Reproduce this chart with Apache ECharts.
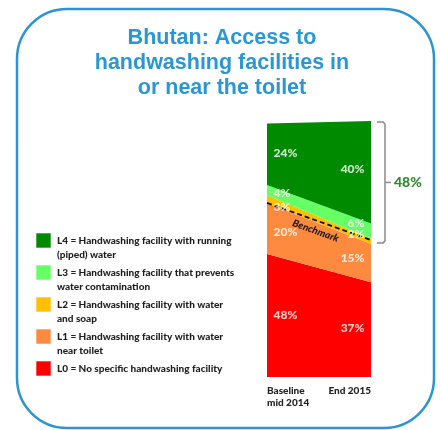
<!DOCTYPE html>
<html>
<head>
<meta charset="utf-8">
<script src="https://cdn.jsdelivr.net/npm/echarts@6/dist/echarts.min.js"></script>
<style>
  html, body { margin: 0; padding: 0; background: #fff; }
  #chart { width: 440px; height: 430px; }
</style>
</head>
<body>
<div id="chart"></div>
<script>
// Survey rounds
const categories = ['Baseline\nmid 2014', 'End 2015'];

// Share of households per handwashing level (%)
const levelL0 = [48, 37];
const levelL1 = [20, 15];
const levelL2 = [3, 2];
const levelL3 = [4, 6];
const levelL4 = [24, 40];

// Benchmark line (%), one value per survey round
const benchmark = [68, 53.5];

const levelNames = ['L0', 'L1', 'L2', 'L3', 'L4'];
const levelText = [
  'L0 = No specific handwashing facility',
  'L1 = Handwashing facility with water\nnear toilet',
  'L2 = Handwashing facility with water\nand soap',
  'L3 = Handwashing facility that prevents\nwater contamination',
  'L4 = Handwashing facility with running\n(piped) water'
];
const levelColors = ['#ff0000', '#fd8a3e', '#ffc000', '#66ff66', '#008a00'];

// Small vertical nudges (px) so labels of thin bands stay legible
const labelShift = [
  [0, 4, 8, 3, -1],
  [-2, -5, -7, -8, -3]
];

const levels = [levelL0, levelL1, levelL2, levelL3, levelL4];

const chart = echarts.init(document.getElementById('chart'), null, { renderer: 'canvas' });

const labelFont = 'Lato, sans-serif';
const heavy = 900;

// Stacked bands
const series = levels.map((vals, i) => ({
  name: levelNames[i],
  type: 'line',
  stack: 'share',
  data: vals,
  symbol: 'none',
  smooth: false,
  silent: true,
  lineStyle: { width: 0 },
  itemStyle: { color: levelColors[i] },
  areaStyle: { color: levelColors[i], opacity: 1 },
  z: 2
}));

// Value labels placed at the middle of each band
const labelData = [];
categories.forEach((cat, j) => {
  let base = 0;
  levels.forEach((vals, i) => {
    const v = vals[j];
    labelData.push({
      value: [j, base + v / 2],
      label: {
        formatter: v + '%',
        position: j === 0 ? 'right' : 'left',
        distance: 6,
        offset: [0, labelShift[j][i]]
      }
    });
    base += v;
  });
});

series.push({
  type: 'scatter',
  data: labelData,
  symbolSize: 1,
  silent: true,
  itemStyle: { color: 'rgba(0,0,0,0)' },
  label: {
    show: true,
    color: '#ffffff',
    fontFamily: labelFont,
    fontWeight: heavy,
    fontSize: 12
  },
  z: 5
});

// Benchmark dashed line
series.push({
  type: 'line',
  data: [],
  silent: true,
  markLine: {
    silent: true,
    symbol: ['none', 'none'],
    lineStyle: { color: '#111', type: [5, 3], width: 1.8 },
    label: {
      show: true,
      formatter: 'Benchmark',
      position: 'insideMiddleBottom',
      color: '#1a1a1a',
      fontFamily: labelFont,
      fontWeight: heavy,
      fontStyle: 'italic',
      fontSize: 10,
      distance: 5
    },
    data: [[
      { coord: [0, benchmark[0]] },
      { coord: [1, benchmark[1]] }
    ]]
  },
  z: 6
});

chart.setOption({
  animation: false,
  title: {
    text: 'Bhutan: Access to\nhandwashing facilities in\nor near the toilet',
    left: 222,
    top: 26,
    padding: 0,
    textAlign: 'center',
    textStyle: {
      color: '#2a96d4',
      fontFamily: '"Liberation Sans", Arial, sans-serif',
      fontWeight: 'bold',
      fontSize: 21.5,
      lineHeight: 25
    }
  },
  grid: { left: 267, right: 69, top: 121, bottom: 53 },
  xAxis: {
    type: 'category',
    data: categories,
    boundaryGap: false,
    axisLine: { show: false },
    axisTick: { show: false },
    axisLabel: {
      margin: 8,
      color: '#222',
      fontFamily: labelFont,
      fontWeight: heavy,
      fontSize: 10,
      lineHeight: 12,
      alignMinLabel: 'left',
      alignMaxLabel: 'right'
    }
  },
  yAxis: {
    type: 'value',
    min: 0,
    max: 100,
    show: false,
    splitLine: { show: false }
  },
  series: series
});

// Frame, legend and bracket
function drawExtras() {
  const graphics = [];

  graphics.push({
    type: 'rect',
    shape: { x: 17, y: 9, width: 417, height: 419, r: 50 },
    style: { fill: 'none', stroke: '#2b95d3', lineWidth: 2.5 },
    silent: true
  });

  // Legend, top entry is L4
  for (let k = 0; k < 5; k++) {
    const i = 4 - k;
    const top = 233 + k * 32;
    graphics.push({
      type: 'rect',
      shape: { x: 36, y: top, width: 15, height: 15 },
      style: { fill: levelColors[i], stroke: 'rgba(255,255,255,0.6)', lineWidth: 1 },
      silent: true
    });
    graphics.push({
      type: 'text',
      x: 57,
      y: top + 1,
      style: {
        text: levelText[i],
        fill: '#1e1e1e',
        fontFamily: labelFont,
        fontWeight: heavy,
        fontSize: 10,
        lineHeight: 14,
        verticalAlign: 'top',
        align: 'left'
      },
      silent: true
    });
  }

  // Bracket around L2+L3+L4 at the last round
  const last = categories.length - 1;
  const below = levelL0[last] + levelL1[last];
  const upper = levelL2[last] + levelL3[last] + levelL4[last];
  const pTop = chart.convertToPixel({ gridIndex: 0 }, [last, below + upper]);
  const pBot = chart.convertToPixel({ gridIndex: 0 }, [last, below]);
  const x0 = pTop[0] + 6, x1 = pTop[0] + 14, xt = pTop[0] + 20;
  const yTop = pTop[1] + 1, yBot = pBot[1] - 1;
  const yMid = (yTop + yBot) / 2;
  graphics.push({
    type: 'polyline',
    shape: { points: [[x0, yTop], [x1 - 2, yTop], [x1, yTop + 2], [x1, yBot - 2], [x1 - 2, yBot], [x0, yBot]] },
    style: { stroke: '#8a8a8a', lineWidth: 1.5, fill: 'none' },
    silent: true
  });
  graphics.push({
    type: 'line',
    shape: { x1: x1, y1: yMid, x2: xt, y2: yMid },
    style: { stroke: '#8a8a8a', lineWidth: 1.5 },
    silent: true
  });
  graphics.push({
    type: 'text',
    x: xt + 3,
    y: yMid,
    style: {
      text: upper + '%',
      fill: '#2e8b2e',
      fontFamily: labelFont,
      fontWeight: heavy,
      fontSize: 14,
      verticalAlign: 'middle',
      align: 'left'
    },
    silent: true
  });

  chart.setOption({ graphic: graphics });
}
drawExtras();
</script>
</body>
</html>
